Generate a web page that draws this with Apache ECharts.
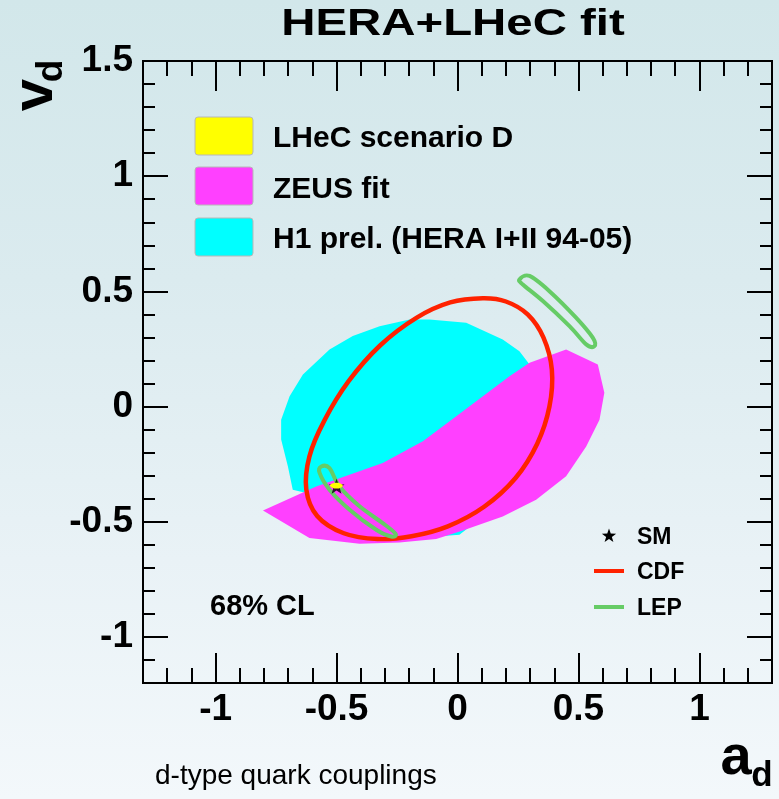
<!DOCTYPE html>
<html>
<head>
<meta charset="utf-8">
<script src="https://cdn.jsdelivr.net/npm/echarts@6/dist/echarts.min.js"></script>
<style>
  html, body { margin: 0; padding: 0; }
  body {
    width: 779px; height: 799px; overflow: hidden;
    background: linear-gradient(to bottom, #d2e7ea 0%, #dbebef 35%, #e9f2f6 70%, #f3f8fb 100%);
  }
  #chart { width: 779px; height: 799px; }
</style>
</head>
<body>
<div id="chart"></div>
<script>
// Axis ticks (a_d horizontal, v_d vertical)
const xMajorTicks = [-1, -0.5, 0, 0.5, 1];
const xMinorTicks = [-1.3, -1.2, -1.1, -1.0, -0.9, -0.8, -0.7, -0.6, -0.5, -0.4, -0.3, -0.2, -0.1, 0,
                     0.1, 0.2, 0.3, 0.4, 0.5, 0.6, 0.7, 0.8, 0.9, 1.0, 1.1, 1.2, 1.3];
const yMajorTicks = [-1, -0.5, 0, 0.5, 1, 1.5];
const yMinorTicks = [-1.2, -1.1, -1.0, -0.9, -0.8, -0.7, -0.6, -0.5, -0.4, -0.3, -0.2, -0.1, 0,
                     0.1, 0.2, 0.3, 0.4, 0.5, 0.6, 0.7, 0.8, 0.9, 1.0, 1.1, 1.2, 1.3, 1.4, 1.5];

// 68% CL contours as [a_d, v_d]
const h1Contour = [
  [-0.681, -0.361], [-0.701, -0.260], [-0.729, -0.143], [-0.729, -0.057], [-0.694, 0.045],
  [-0.639, 0.139], [-0.529, 0.248], [-0.433, 0.306], [-0.322, 0.349], [-0.198, 0.378],
  [-0.116, 0.378], [0.036, 0.364], [0.187, 0.291], [0.256, 0.240], [0.298, 0.183],
  [0.339, 0.060], [0.325, -0.114], [0.243, -0.303], [0.105, -0.477], [0.008, -0.557],
  [-0.088, -0.564], [-0.309, -0.520], [-0.515, -0.433], [-0.625, -0.375]
];
const zeusContour = [
  [-0.804, -0.451], [-0.584, -0.347], [-0.309, -0.245], [-0.143, -0.151], [-0.005, -0.042],
  [0.105, 0.045], [0.215, 0.132], [0.298, 0.190], [0.449, 0.248], [0.580, 0.183],
  [0.607, 0.060], [0.587, -0.057], [0.532, -0.173], [0.449, -0.303], [0.325, -0.404],
  [0.187, -0.477], [0.022, -0.538], [-0.088, -0.575], [-0.240, -0.590], [-0.405, -0.596],
  [-0.612, -0.571]
];
const cdfContour = [
  [0.105, 0.470], [0.200, 0.456], [0.290, 0.400], [0.355, 0.300], [0.390, 0.160],
  [0.380, 0.000], [0.330, -0.160], [0.240, -0.310], [0.110, -0.435], [-0.040, -0.520],
  [-0.190, -0.563], [-0.330, -0.575], [-0.470, -0.550], [-0.580, -0.475], [-0.625, -0.360],
  [-0.612, -0.216], [-0.550, -0.060], [-0.450, 0.110], [-0.320, 0.265], [-0.170, 0.385],
  [-0.030, 0.452]
];
const lepUpper = [
  [0.256, 0.552], [0.298, 0.567], [0.380, 0.501], [0.490, 0.386], [0.559, 0.299],
  [0.566, 0.262], [0.532, 0.270], [0.463, 0.349], [0.353, 0.458], [0.270, 0.530]
];
const lepLower = [
  [-0.563, -0.260], [-0.529, -0.267], [-0.488, -0.347], [-0.405, -0.433], [-0.309, -0.506],
  [-0.256, -0.552], [-0.274, -0.564], [-0.336, -0.535], [-0.446, -0.448], [-0.529, -0.361],
  [-0.570, -0.288]
];
const lhecContour = [
  [-0.528, -0.343], [-0.518, -0.334], [-0.500, -0.331], [-0.482, -0.335], [-0.474, -0.343],
  [-0.482, -0.352], [-0.500, -0.356], [-0.518, -0.352]
];
const smPoint = [[-0.5, -0.346]];

const starPath = 'path://M0,-10 L2.35,-3.24 L9.51,-3.09 L3.8,1.24 L5.88,8.09 L0,4 L-5.88,8.09 L-3.8,1.24 L-9.51,-3.09 L-2.35,-3.24 Z';
// Same star as a point list, for the key entry
const starPoints = [[0, -10], [2.35, -3.24], [9.51, -3.09], [3.8, 1.24], [5.88, 8.09], [0, 4],
                    [-5.88, 8.09], [-3.8, 1.24], [-9.51, -3.09], [-2.35, -3.24]];
const FONT = '"Liberation Sans", Arial, Helvetica, sans-serif';

// Closed Catmull-Rom curve through pixel points, as SVG path data
function closedCurvePath(p) {
  const n = p.length;
  let d = 'M' + p[0][0] + ',' + p[0][1];
  for (let i = 0; i < n; i++) {
    const p0 = p[(i - 1 + n) % n], p1 = p[i], p2 = p[(i + 1) % n], p3 = p[(i + 2) % n];
    const c1x = p1[0] + (p2[0] - p0[0]) / 6, c1y = p1[1] + (p2[1] - p0[1]) / 6;
    const c2x = p2[0] - (p3[0] - p1[0]) / 6, c2y = p2[1] - (p3[1] - p1[1]) / 6;
    d += ' C' + c1x + ',' + c1y + ' ' + c2x + ',' + c2y + ' ' + p2[0] + ',' + p2[1];
  }
  return d + ' Z';
}

// One closed contour drawn through the cartesian coordinate system
function contourSeries(name, pts, style, smooth, z) {
  return {
    type: 'custom', name: name, coordinateSystem: 'cartesian2d',
    data: pts, encode: { x: 0, y: 1 }, clip: true, silent: true, z: z,
    renderItem: function (params, api) {
      if (params.dataIndex !== 0) return null;
      const points = pts.map(function (p) { return api.coord(p); });
      if (smooth) {
        return { type: 'path', shape: { pathData: closedCurvePath(points) }, style: style };
      }
      return { type: 'polygon', shape: { points: points }, style: style };
    }
  };
}

function xAxisDef(pos, ticks, len, labels) {
  return {
    type: 'value', position: pos, min: -1.3, max: 1.3,
    axisLine: { show: false, onZero: false },
    splitLine: { show: false },
    axisTick: { show: true, inside: true, length: len, customValues: ticks,
                lineStyle: { color: '#000', width: 2 } },
    axisLabel: labels ? {
      show: true, customValues: xMajorTicks, margin: 27, verticalAlign: 'middle',
      color: '#000', fontFamily: FONT, fontWeight: 'bold', fontSize: 37
    } : { show: false }
  };
}
function yAxisDef(pos, ticks, len, labels) {
  return {
    type: 'value', position: pos, min: -1.2, max: 1.5,
    axisLine: { show: false, onZero: false },
    splitLine: { show: false },
    axisTick: { show: true, inside: true, length: len, customValues: ticks,
                lineStyle: { color: '#000', width: 2 } },
    axisLabel: labels ? {
      show: true, customValues: yMajorTicks, margin: 10,
      color: '#000', fontFamily: FONT, fontWeight: 'bold', fontSize: 37
    } : { show: false }
  };
}

function txt(text, x, y, size, opts) {
  opts = opts || {};
  return {
    type: 'text', x: x, y: y, rotation: opts.rotation || 0,
    scaleX: opts.scaleX || 1, scaleY: opts.scaleY || 1, z: 100,
    style: {
      text: text, fill: '#000', fontFamily: FONT, fontSize: size,
      fontWeight: opts.weight || 'bold',
      align: opts.align || 'left', textAlign: opts.align || 'left',
      verticalAlign: 'middle', textVerticalAlign: 'middle'
    }
  };
}
function box(x, y, color) {
  return { type: 'rect', shape: { x: x, y: y, width: 58, height: 38, r: 3 }, z: 100,
           style: { fill: color, stroke: '#b8b8b8', lineWidth: 1 } };
}

const chart = echarts.init(document.getElementById('chart'), null, { renderer: 'canvas' });
chart.setOption({
  backgroundColor: 'transparent',
  animation: false,
  grid: { left: 143, top: 61, width: 629, height: 622, show: true,
          borderColor: '#000', borderWidth: 2, backgroundColor: 'transparent' },
  xAxis: [
    xAxisDef('bottom', xMajorTicks, 30, true),
    xAxisDef('bottom', xMinorTicks, 15, false),
    xAxisDef('top', xMajorTicks, 30, false),
    xAxisDef('top', xMinorTicks, 15, false)
  ],
  yAxis: [
    yAxisDef('left', yMajorTicks, 25, true),
    yAxisDef('left', yMinorTicks, 12, false),
    yAxisDef('right', yMajorTicks, 25, false),
    yAxisDef('right', yMinorTicks, 12, false)
  ],
  series: [
    contourSeries('H1 prel. (HERA I+II 94-05)', h1Contour, { fill: '#00ffff' }, false, 1),
    contourSeries('ZEUS fit', zeusContour, { fill: '#ff40ff' }, false, 2),
    contourSeries('CDF', cdfContour, { fill: 'none', stroke: '#ff2200', lineWidth: 4.5 }, true, 3),
    contourSeries('LEP', lepUpper, { fill: 'none', stroke: '#66cc66', lineWidth: 4 }, true, 4),
    contourSeries('LEP', lepLower, { fill: 'none', stroke: '#66cc66', lineWidth: 4 }, true, 4),
    {
      type: 'scatter', name: 'SM', data: smPoint, symbol: starPath, symbolSize: 16,
      symbolKeepAspect: true, itemStyle: { color: '#000' }, z: 5, silent: true
    },
    contourSeries('LHeC scenario D', lhecContour, { fill: '#ffff00' }, true, 6)
  ],
  graphic: [
    txt('HERA+LHeC fit', 453, 25, 37, { align: 'center', scaleX: 1.28 }),
    txt('v', 36, 95, 58, { align: 'center', rotation: Math.PI / 2 }),
    txt('d', 52, 71, 37, { align: 'center', rotation: Math.PI / 2 }),
    txt('a', 736, 759, 56, { align: 'center' }),
    txt('d', 762, 776, 35, { align: 'center' }),
    txt('d-type quark couplings', 155, 776, 28, { weight: 'normal' }),
    box(195, 117, '#ffff00'),
    box(195, 167, '#ff40ff'),
    box(195, 218, '#00ffff'),
    txt('LHeC scenario D', 273, 139, 30),
    txt('ZEUS fit', 273, 189.5, 30),
    txt('H1 prel. (HERA I+II 94-05)', 273, 240, 30),
    txt('68% CL', 210, 607, 29),
    { type: 'polygon', x: 609, y: 536, scaleX: 0.75, scaleY: 0.75, z: 100,
      shape: { points: starPoints }, style: { fill: '#000' } },
    { type: 'line', z: 100, shape: { x1: 594, y1: 571, x2: 624, y2: 571 },
      style: { stroke: '#ff2200', lineWidth: 4 } },
    { type: 'line', z: 100, shape: { x1: 594, y1: 607, x2: 624, y2: 607 },
      style: { stroke: '#66cc66', lineWidth: 4 } },
    txt('SM', 637, 538, 23),
    txt('CDF', 637, 573, 23),
    txt('LEP', 637, 608.5, 23)
  ]
});
</script>
</body>
</html>
